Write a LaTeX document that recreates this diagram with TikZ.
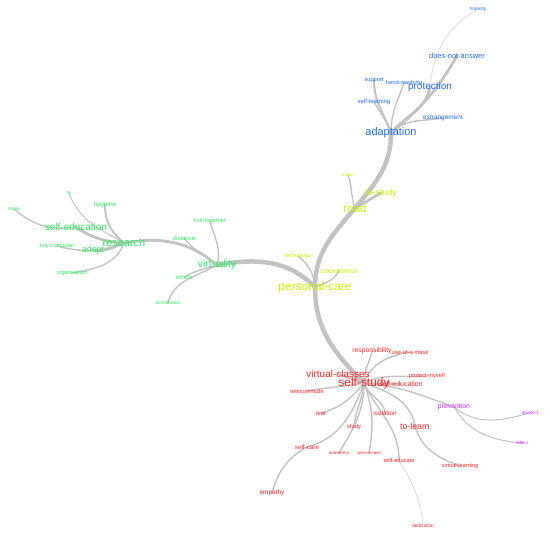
\documentclass[tikz,border=0pt]{standalone}
\usepackage{fontspec}
\setmainfont{Liberation Sans}
\usetikzlibrary{backgrounds}
\definecolor{carecol}{RGB}{200,240,0}
\definecolor{virtcol}{RGB}{45,235,95}
\definecolor{adaptcol}{RGB}{30,110,240}
\definecolor{studycol}{RGB}{255,35,35}
\definecolor{prevcol}{RGB}{205,40,245}
\definecolor{edgecol}{RGB}{195,195,195}
\definecolor{edgelight}{RGB}{222,222,222}
\begin{document}
\begin{tikzpicture}[x=1bp, y=1bp,
  word/.style={inner sep=0pt, font=\fontsize{#1}{#1}\selectfont},
  careword/.style={word=#1, text=carecol},
  virtword/.style={word=#1, text=virtcol},
  adaptword/.style={word=#1, text=adaptcol},
  studyword/.style={word=#1, text=studycol},
  prevword/.style={word=#1, text=prevcol},
  link/.style={draw=edgecol, line cap=round},
  trunk/.style={link, line width=4.5bp},
  bough/.style={link, line width=2.8bp},
  twig/.style={link, line width=1.4bp},
  faint/.style={draw=edgelight, line cap=round, line width=0.9bp}]
  \useasboundingbox (0,0) rectangle (550,536);
  % personal-care group
  \node[careword=12] (pcare) at (315,249) {personal-care};
  \node[careword=11.5] (road) at (355,328) {road};
  \node[careword=9] (tostudy) at (381,343) {to-study};
  \node[careword=5] (clean) at (348,361) {clean};
  \node[careword=5.5] (techno) at (298,280) {technology};
  \node[careword=7] (coexist) at (339,265) {coexistence};
  % virtuality group
  \node[virtword=11] (research) at (124,293) {research};
  \node[virtword=10] (selfedu) at (76,309) {self-education};
  \node[virtword=9] (adept) at (93,286) {adept};
  \node[virtword=6.5] (hygiene) at (105,331) {hygiene};
  \node[virtword=4.5] (fe) at (69,343) {fe};
  \node[virtword=5] (mask) at (14,327) {mask};
  \node[virtword=5.7] (buycomp) at (57,290) {buy-computer};
  \node[virtword=5.7] (organiz) at (72,263) {organization};
  \node[virtword=10.5] (virtual) at (217,271) {virtuality};
  \node[virtword=5.8] (livetog) at (210,315) {live-together};
  \node[virtword=6] (distance) at (184,298) {distance};
  \node[virtword=6] (inform) at (184,259) {inform};
  \node[virtword=5] (disinf) at (168,233) {disinfection};
  % adaptation group
  \node[adaptword=11] (adapt) at (391,403) {adaptation};
  \node[adaptword=10] (protect) at (430,449) {protection};
  \node[adaptword=7.5] (notanswer) at (457,480) {does-not-answer};
  \node[adaptword=5.7] (support) at (374,456) {support};
  \node[adaptword=5.8] (handwash) at (404,453) {hand-washing};
  \node[adaptword=6] (selflearn) at (374,434) {self-learning};
  \node[adaptword=6.5] (estrange) at (443,418) {estrangement};
  \node[adaptword=4.8] (honesty) at (478,527) {honesty};
  % self-study group
  \node[studyword=10] (vclasses) at (338,162) {virtual-classes};
  \node[studyword=6.8] (respons) at (372,185) {responsibility};
  \node[studyword=5.8] (usemask) at (410,184) {use-of-a-mask};
  \node[studyword=5.7] (protmyself) at (427,160) {protect-myself};
  \node[studyword=7] (selfeduR) at (401,152) {self-education};
  \node[studyword=5.8] (telecomm) at (307,145) {telecommute};
  \node[studyword=5.8] (fear) at (321,123) {fear};
  \node[studyword=6.3] (isolation) at (385,123) {isolation};
  \node[studyword=8.8] (tolearn) at (415,110) {to-learn};
  \node[studyword=5.8] (study) at (354,109) {study};
  \node[studyword=6.3] (selfcare) at (307,89) {self-care};
  \node[studyword=4.6] (autonomy) at (339,83) {autonomy};
  \node[studyword=4.2] (debt) at (369,83) {get-into-debt};
  \node[studyword=5.7] (selfeducate) at (399,76) {self-educate};
  \node[studyword=5.6] (vlearning) at (460,70) {virtual-learning};
  \node[studyword=6.5] (empathy) at (272,43) {empathy};
  \node[studyword=4.8] (dedication) at (423,10) {dedication};
  \node[studyword=12] (selfstudy) at (364,153) {self-study};
  % prevention group
  \node[prevword=6.9] (prevention) at (454,129) {prevention};
  \node[prevword=4.5] (disinfect) at (530,123) {disinfect};
  \node[prevword=4.5] (reflect) at (522,93) {reflect};

  \begin{pgfonlayer}{background}
    % main stem
    \draw[trunk] (pcare.center) to[out=-90,in=135] (selfstudy.center);
    \draw[trunk] (pcare.center) to[out=90,in=-130] (road.center);
    \draw[trunk] (road.center) to[out=50,in=-90] (adapt.center);
    \draw[trunk] (pcare.center) to[out=135,in=10] (virtual.center);
    \draw[bough] (virtual.center) to[out=140,in=10] (research.center);
    % personal-care and road
    \draw[bough] (road.center) to[out=30,in=-150] (tostudy.center);
    \draw[twig] (road.center) to[out=110,in=-70] (clean.center);
    \draw[twig] (pcare.center) to[out=95,in=-40] (techno.center);
    \draw[twig] (pcare.center) to[out=20,in=-120] (coexist.center);
    % virtuality
    \draw[twig] (virtual.center) to[out=145,in=-50] (distance.center);
    \draw[twig] (virtual.center) to[out=75,in=-75] (livetog.center);
    \draw[twig] (virtual.center) to[out=200,in=30] (inform.center);
    \draw[twig] (virtual.center) to[out=210,in=75] (disinf.center);
    % research
    \draw[bough] (research.center) to[out=175,in=-35] (selfedu.center);
    \draw[bough] (research.center) to[out=200,in=-10] (adept.center);
    \draw[link, line width=2bp] (research.center) to[out=140,in=-90] (hygiene.center);
    \draw[link, line width=1bp] (research.center) to[out=150,in=-70] (fe.center);
    \draw[twig] (selfedu.center) to[out=190,in=-40] (mask.center);
    \draw[twig] (research.center) to[out=200,in=-15] (buycomp.center);
    \draw[twig] (research.center) to[out=-110,in=10] (organiz.center);
    % adaptation
    \draw[bough] (adapt.center) to[out=40,in=-120] (notanswer.center);
    \draw[bough] (adapt.center) to[out=50,in=-100] (protect.center);
    \draw[link, line width=2bp] (adapt.center) to[out=110,in=-90] (support.center);
    \draw[twig] (adapt.center) to[out=90,in=-110] (handwash.center);
    \draw[twig] (selflearn.center) to[out=-60,in=110] (adapt.center);
    \draw[twig] (adapt.center) to[out=45,in=190] (estrange.center);
    \draw[faint] (protect.center) to[out=85,in=-150] (honesty.center);
    % self-study
    \draw[link, line width=2bp] (selfstudy.center) to[out=160,in=-20] (vclasses.center);
    \draw[twig] (selfstudy.center) to[out=95,in=-100] (respons.center);
    \draw[twig] (selfstudy.center) to[out=70,in=190] (usemask.center);
    \draw[twig] (selfstudy.center) to[out=25,in=185] (protmyself.center);
    \draw[twig] (selfstudy.center) to[out=0,in=180] (selfeduR.center);
    \draw[twig] (selfstudy.center) to[out=-5,in=160] (prevention.center);
    \draw[twig] (selfstudy.center) to[out=-20,in=100] (tolearn.center);
    \draw[twig] (tolearn.center) to[out=-75,in=160] (vlearning.center);
    \draw[twig] (selfstudy.center) to[out=-75,in=95] (isolation.center);
    \draw[twig] (selfstudy.center) to[out=-65,in=90] (selfeducate.center);
    \draw[faint] (selfeducate.center) to[out=-60,in=95] (dedication.center);
    \draw[twig] (selfstudy.center) to[out=-70,in=80] (debt.center);
    \draw[twig] (selfstudy.center) to[out=-95,in=85] (study.center);
    \draw[twig] (selfstudy.center) to[out=-90,in=60] (autonomy.center);
    \draw[twig] (selfstudy.center) to[out=-110,in=15] (selfcare.center);
    \draw[twig] (selfcare.center) to[out=-150,in=75] (empathy.center);
    \draw[twig] (selfstudy.center) to[out=-130,in=15] (fear.center);
    \draw[twig] (selfstudy.center) to[out=190,in=10] (telecomm.center);
    % prevention
    \draw[link, line width=1bp] (prevention.center) to[out=-40,in=195] (disinfect.center);
    \draw[link, line width=1bp] (prevention.center) to[out=-60,in=175] (reflect.center);
  \end{pgfonlayer}
\end{tikzpicture}
\end{document}
